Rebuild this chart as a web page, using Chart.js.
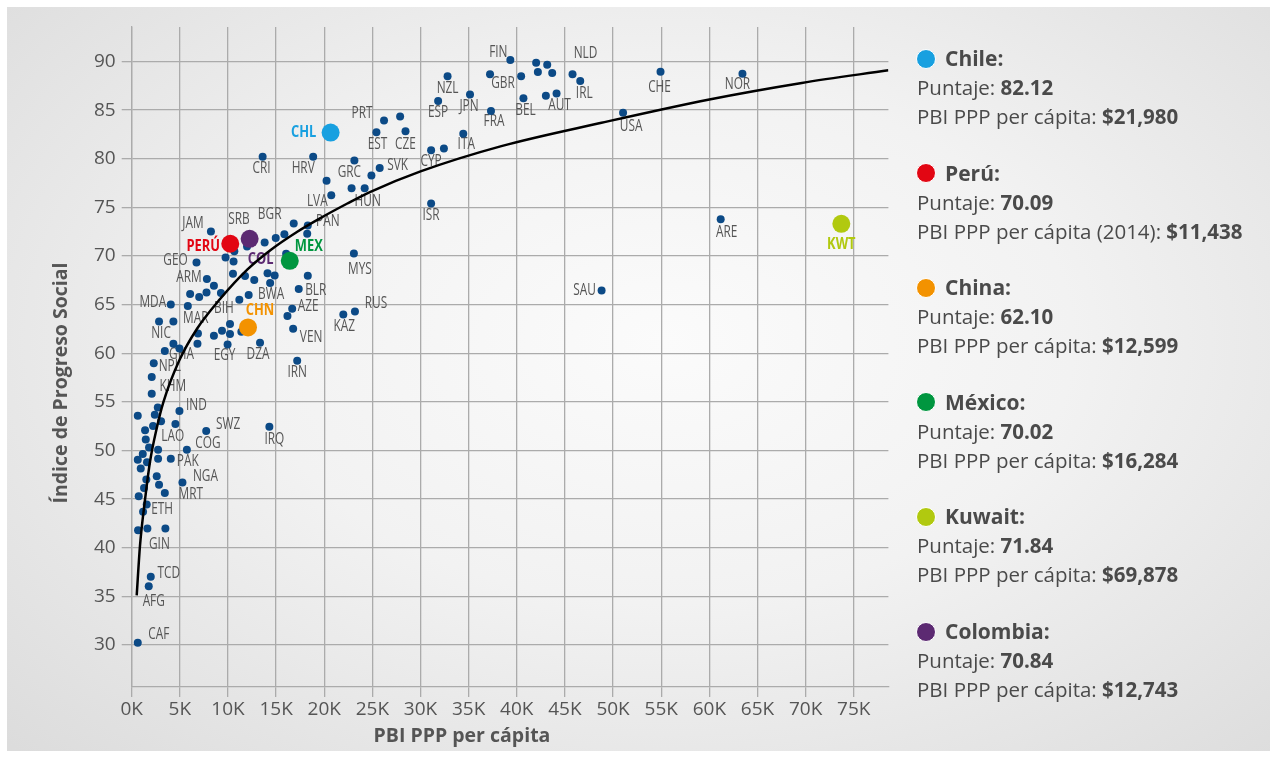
<!DOCTYPE html>
<html><head><meta charset="utf-8">
<script src="https://cdn.jsdelivr.net/npm/chart.js@4.4.1/dist/chart.umd.min.js"></script>
<style>
html,body{margin:0;padding:0;background:#fff;width:1277px;height:758px;overflow:hidden;}
#panel{position:absolute;left:7px;top:7px;width:1263px;height:744px;
 background:radial-gradient(ellipse 72% 78% at 52% 45%, #fbfbfb 0%, #f2f2f2 45%, #dcdcdc 100%);}
#wrap{position:absolute;left:0;top:0;width:900px;height:758px;}
.ttl{position:absolute;font-family:"Open Sans",sans-serif;font-weight:bold;font-size:19.5px;color:#555;white-space:nowrap;text-align:center;line-height:26px;}
#side{position:absolute;left:0;top:0;width:1277px;height:758px;font-family:"Open Sans",sans-serif;color:#4a4a4a;}
.ln{position:absolute;left:917px;white-space:nowrap;font-size:20.5px;line-height:29px;}
.hd{position:absolute;left:945px;white-space:nowrap;font-size:21px;font-weight:bold;line-height:29px;}
.dot{position:absolute;left:916px;width:20px;height:20px;border-radius:50%;border:1.5px solid #fff;box-sizing:border-box;}
b{font-weight:bold;}
</style></head>
<body>
<div id="panel"></div>
<div id="wrap"><canvas id="c" width="900" height="758"></canvas></div>
<div class="ttl" style="left:262px;top:722px;width:400px;">PBI PPP per cápita</div>
<div class="ttl" style="left:-140px;top:370px;width:400px;transform:rotate(-90deg);">Índice de Progreso Social</div>
<div id="side"></div>
<script>
// ---- Data (GDP PPP per capita in thousands USD, Social Progress Index) ----
const countryCodes = ['', 'LVA', '', 'HUN', 'JAM', '', 'PAN', '', '', '', '', 'SRB', 'BGR', '', '', '',
 'GEO', '', '', '', '', '', 'BWA', '', 'BLR', 'ARM', '', '', '', '', 'BIH', '', '', 'MDA', 'MAR', 'AZE', '',
 'KAZ', 'RUS', 'MYS', 'VEN', '', '', '', '', '', '', '', 'EGY', 'DZA', 'NIC', '', '', 'GHA', '', 'IRN', 'NPL',
 '', 'KHM', '', 'IND', '', '', '', '', '', 'SWZ', 'IRQ', '', 'LAO', '', '', 'COG', '', '', '', '', 'PAK', '',
 '', '', 'NGA', '', '', 'MRT', '', '', 'ETH', '', 'GIN', '', 'TCD', 'AFG', 'CAF',
 'ESP', 'JPN', 'FRA', 'PRT', '', 'EST', 'CZE', 'ITA', 'CYP', '', 'CRI', 'HRV', 'GRC', 'SVK', '', 'ISR',
 'NZL', 'GBR', 'FIN', '', 'BEL', '', '', '', '', '', 'AUT', 'NLD', 'IRL', 'USA', 'CHE', 'NOR', 'ARE', 'SAU'];
const gdpPerCapitaK = [20.24, 20.73, 22.84, 24.2, 8.23, 16.83, 18.29, 18.23, 10.66, 9.75, 10.58, 11.98, 13.81, 14.96, 15.86, 16.04,
 6.73, 10.52, 11.77, 12.73, 14.11, 14.85, 14.38, 18.29, 17.35, 7.81, 8.54, 6.07, 7.01, 7.77, 9.27, 11.18, 12.15, 4.06, 5.83, 16.67, 16.18,
 21.98, 23.19, 23.08, 16.77, 6.88, 6.83, 10.21, 9.38, 10.21, 8.54, 11.39, 9.96, 13.33, 2.84, 4.33, 4.33, 4.96, 3.44, 17.19, 2.29,
 2.08, 2.08, 2.71, 4.96, 0.63, 2.4, 3.05, 4.54, 2.22, 7.74, 14.3, 1.39, 1.46, 1.8, 2.74, 5.73, 1.15, 0.63, 1.59, 2.74, 4.06, 0.94,
 2.6, 1.52, 5.27, 2.84, 1.28, 3.44, 0.73, 1.56, 1.18, 0.66, 1.63, 3.5, 1.98, 1.77, 0.63,
 31.83, 35.14, 37.32, 26.21, 27.88, 25.42, 28.44, 34.44, 31.1, 32.43, 13.6, 18.85, 23.13, 25.76, 24.9, 31.1,
 32.81, 37.22, 39.33, 40.45, 40.69, 42.01, 43.16, 42.19, 43.68, 43.02, 44.13, 45.79, 46.59, 51.04, 54.93, 63.44, 61.18, 48.81];
const socialProgressIndex = [77.73, 76.26, 76.98, 76.98, 72.52, 73.34, 73.14, 72.28, 70.5, 69.85, 69.44, 70.98, 71.39, 71.84, 72.25, 70.23,
 69.33, 68.17, 67.94, 67.53, 68.24, 68.0, 67.22, 67.97, 66.6, 67.63, 66.94, 66.09, 65.78, 66.25, 66.19, 65.5, 65.98, 65.02, 64.85, 64.58, 63.83,
 63.99, 64.3, 70.26, 62.52, 62.04, 60.98, 63.0, 62.32, 61.98, 61.8, 62.21, 60.91, 61.08, 63.27, 63.27, 60.98, 60.5, 60.23, 59.23, 58.96,
 57.56, 55.84, 54.43, 54.07, 53.58, 53.68, 53.0, 52.73, 52.52, 52.01, 52.45, 52.07, 51.12, 50.32, 50.09, 50.09, 49.65, 49.06, 48.78, 49.16, 49.16, 48.14,
 47.34, 47.01, 46.7, 46.49, 46.15, 45.64, 45.29, 44.44, 43.69, 41.8, 41.97, 41.97, 37.01, 36.04, 30.23,
 85.95, 86.6, 84.92, 83.93, 84.34, 82.73, 82.84, 82.56, 80.88, 81.05, 80.2, 80.2, 79.81, 79.06, 78.27, 75.4,
 88.49, 88.69, 90.16, 88.49, 86.23, 89.88, 89.68, 88.93, 88.83, 86.49, 86.7, 88.69, 88.0, 84.72, 88.96, 88.75, 73.79, 66.46];

const highlightCodes = ['CHL', 'PERÚ', 'CHN', 'MEX', 'KWT', 'COL'];
const highlightGdpK = [20.66, 10.24, 12.08, 16.42, 73.71, 12.25];
const highlightSpi = [82.69, 71.26, 62.66, 69.51, 73.31, 71.77];

const trendGdpK = [0.52, 0.86, 1.39, 1.91, 2.6, 3.3, 4.96, 6.77, 9.2, 12.0, 14.4, 17.2, 19.6, 22.4, 24.8, 30, 38.4, 48.8, 60, 69.6, 78.6];
const trendSpi = [35.1, 40.2, 45.0, 48.9, 52.3, 55.0, 59.3, 62.5, 65.6, 68.6, 70.6, 72.5, 73.9, 75.4, 76.6, 78.7, 81.3, 83.7, 86.1, 87.8, 89.1];

const panelNames = ['Chile', 'Perú', 'China', 'México', 'Kuwait', 'Colombia'];
const panelScores = ['82.12', '70.09', '62.10', '70.02', '71.84', '70.84'];
const panelGdpText = ['PBI PPP per cápita:', 'PBI PPP per cápita (2014):', 'PBI PPP per cápita:', 'PBI PPP per cápita:', 'PBI PPP per cápita:', 'PBI PPP per cápita:'];
const panelGdp = ['$21,980', '$11,438', '$12,599', '$16,284', '$69,878', '$12,743'];

// ---- Styles ----
const highlightColors = ['#18a0e0', '#e20613', '#f39200', '#00963f', '#b1c90f', '#5c2a72'];
const labelOffsets = {
 JAM:[-18,-8], SRB:[-8,-27], BGR:[5,-28], GEO:[-21,-2], ARM:[-18,-2], MDA:[-18,-2], BIH:[3,15], BWA:[1,11],
 BLR:[17,1], AZE:[16,-2], MAR:[8,12], NIC:[2,12], KAZ:[1,12], RUS:[21,-8], VEN:[18,9], MYS:[6,16], GHA:[2,6],
 EGY:[-3,11], DZA:[-2,12], IRN:[0,12], NPL:[16,3], KHM:[21,-7], IND:[17,-5], SWZ:[22,-7], LAO:[27,-3], COG:[21,-6],
 IRQ:[5,13], PAK:[17,3], NGA:[23,-6], MRT:[26,2], ETH:[19,-2], GIN:[12,16], TCD:[18,-3], AFG:[5,15], CAF:[21,-8],
 PRT:[-22,-7], EST:[1,12], CZE:[0,13], ESP:[0,12], JPN:[-1,12], FRA:[3,11], ITA:[3,11], CYP:[0,11], CRI:[-1,12],
 HRV:[-10,12], GRC:[-5,12], SVK:[18,-2], LVA:[-14,6], HUN:[3,13], ISR:[0,12], PAN:[20,-4], NZL:[0,12], GBR:[13,9],
 FIN:[-12,-8], BEL:[2,12], AUT:[3,12], NLD:[13,-21], IRL:[4,12], USA:[8,14], CHE:[-1,16], NOR:[-5,11], ARE:[6,13], SAU:[-17,0]
};
const highlightOffsets = [[-27,0],[-27,3],[12,-17],[19,-14],[0,20],[11,20]];
const labelFamily = '"Open Sans", sans-serif';
const gridColor = '#ababab';

function drawCondensed(ctx, text, px, py, sx) {
  ctx.save();
  ctx.translate(px, py);
  ctx.scale(sx, 1);
  ctx.fillText(text, 0, 0);
  ctx.restore();
}

const labelPlugin = {
  id: 'codeLabels',
  beforeDatasetsDraw(chart) {
    const {ctx, scales: {x, y}} = chart;
    ctx.save();
    ctx.textAlign = 'center';
    ctx.textBaseline = 'middle';
    ctx.font = '16px ' + labelFamily;
    ctx.fillStyle = '#555';
    countryCodes.forEach((code, i) => {
      if (!code) return;
      const o = labelOffsets[code] || [0, 12];
      drawCondensed(ctx, code, x.getPixelForValue(gdpPerCapitaK[i]) + o[0], y.getPixelForValue(socialProgressIndex[i]) + o[1], 0.74);
    });
    ctx.font = 'bold 16.5px ' + labelFamily;
    highlightCodes.forEach((code, i) => {
      const o = highlightOffsets[i];
      ctx.fillStyle = highlightColors[i];
      drawCondensed(ctx, code, x.getPixelForValue(highlightGdpK[i]) + o[0], y.getPixelForValue(highlightSpi[i]) + o[1], 0.78);
    });
    ctx.restore();
  }
};

const tickFont = {family: '"Open Sans", sans-serif', size: 19};

new Chart(document.getElementById('c'), {
  type: 'scatter',
  data: {
    datasets: [
      {label: 'Destacados', order: 0,
       data: highlightGdpK.map((v, i) => ({x: v, y: highlightSpi[i]})),
       backgroundColor: highlightColors, borderWidth: 0, pointRadius: 9},
      {label: 'Tendencia', type: 'line', order: 1,
       data: trendGdpK.map((v, i) => ({x: v, y: trendSpi[i]})),
       borderColor: '#000', borderWidth: 2.5, pointRadius: 0, fill: false, cubicInterpolationMode: 'monotone'},
      {label: 'Países', order: 2,
       data: gdpPerCapitaK.map((v, i) => ({x: v, y: socialProgressIndex[i]})),
       backgroundColor: '#0c4a86', borderWidth: 0, pointRadius: 4}
    ]
  },
  options: {
    responsive: false, animation: false,
    layout: {padding: {top: 27, right: 11.6, left: 0, bottom: 0}},
    plugins: {legend: {display: false}, tooltip: {enabled: false}},
    scales: {
      x: {type: 'linear', min: 0, max: 78.6,
          ticks: {stepSize: 5, includeBounds: false, callback: v => v + 'K', color: '#555', font: tickFont, padding: 1, maxRotation: 0, autoSkip: false},
          grid: {color: gridColor, lineWidth: 1.3, tickLength: 10},
          border: {color: gridColor, width: 1.3},
          afterFit: s => { s.height = 71; }},
      y: {type: 'linear', min: 25.68, max: 93.55,
          ticks: {stepSize: 5, includeBounds: false, color: '#555', font: tickFont, padding: 6},
          grid: {color: gridColor, lineWidth: 1.3, tickLength: 10},
          border: {color: gridColor, width: 1.3},
          afterFit: s => { s.width = 131.7; }}
    }
  },
  plugins: [labelPlugin]
});

// ---- Side panel ----
const side = document.getElementById('side');
panelNames.forEach((name, i) => {
  const cy = 58.5 + i * 114.6;
  const dot = document.createElement('div');
  dot.className = 'dot'; dot.style.top = (cy - 10) + 'px'; dot.style.background = highlightColors[i];
  side.appendChild(dot);
  const hd = document.createElement('div');
  hd.className = 'hd'; hd.style.top = (cy - 14.5) + 'px'; hd.textContent = name + ':';
  side.appendChild(hd);
  const l1 = document.createElement('div');
  l1.className = 'ln'; l1.style.top = (cy + 29 - 14.5) + 'px';
  l1.innerHTML = 'Puntaje: <b>' + panelScores[i] + '</b>';
  side.appendChild(l1);
  const l2 = document.createElement('div');
  l2.className = 'ln'; l2.style.top = (cy + 58 - 14.5) + 'px';
  l2.innerHTML = panelGdpText[i] + ' <b>' + panelGdp[i] + '</b>';
  side.appendChild(l2);
});
</script>
</body></html>
